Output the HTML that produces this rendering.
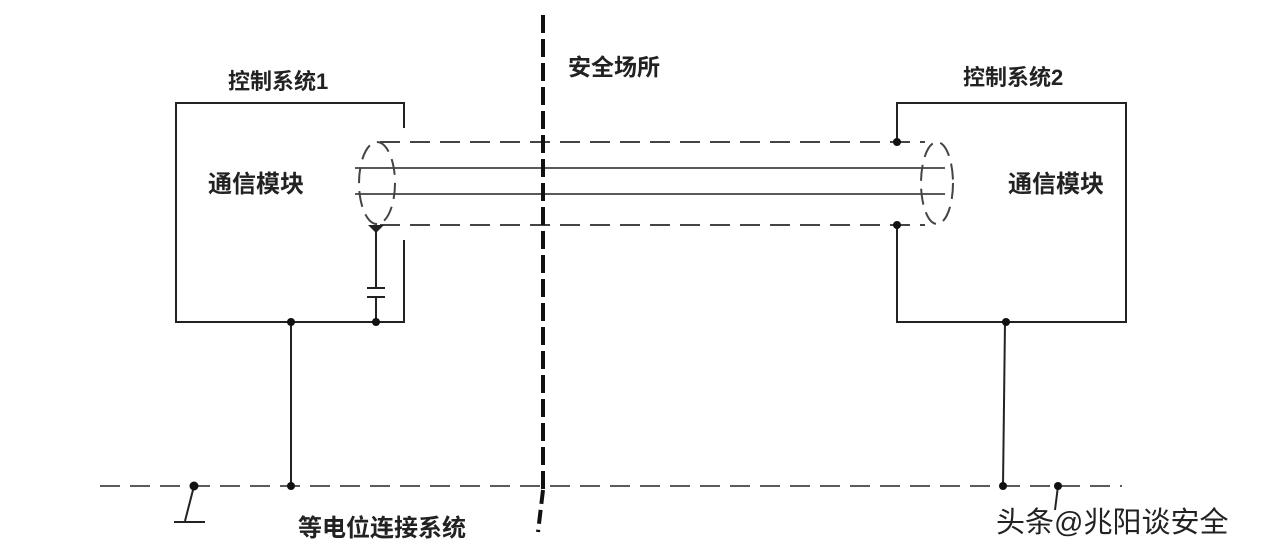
<!DOCTYPE html>
<html><head><meta charset="utf-8"><style>
body{margin:0;background:#fff}
svg text{font-family:"Liberation Sans","Noto Sans CJK SC",sans-serif;fill:#222;font-weight:bold}
</style></head><body>
<svg width="1280" height="552" viewBox="0 0 1280 552" xmlns="http://www.w3.org/2000/svg">
<rect width="1280" height="552" fill="#fff"/>
<g stroke="#222" stroke-width="2" fill="none">
<polyline points="404,128 404,103 176,103 176,322 404,322 404,240"/>
<polyline points="897,142 897,103 1126,103 1126,322 897,322 897,225"/>
<line x1="355" y1="168" x2="945" y2="168" stroke-width="1.6"/>
<line x1="355" y1="194" x2="945" y2="194" stroke-width="1.6"/>
</g>
<g stroke="#444" stroke-width="2" fill="none" stroke-dasharray="20,10">
<line x1="380" y1="142" x2="925" y2="142"/>
<line x1="380" y1="225" x2="925" y2="225"/>
<ellipse cx="377" cy="183" rx="18" ry="41" stroke-dasharray="16,8"/>
<ellipse cx="937" cy="183" rx="16" ry="41" stroke-dasharray="16,8"/>
<line x1="100" y1="486" x2="1122" y2="486" stroke-width="1.8"/>
</g>
<g stroke="#222" stroke-width="2" fill="none">
<line x1="376" y1="225" x2="376" y2="288"/>
<line x1="367" y1="288" x2="385" y2="288"/>
<line x1="367" y1="297" x2="385" y2="297"/>
<line x1="376" y1="297" x2="376" y2="322"/>
<line x1="291" y1="322" x2="291" y2="486"/>
<line x1="1005" y1="322" x2="1003" y2="486"/>
<line x1="194" y1="486" x2="185" y2="521"/>
<line x1="174" y1="522" x2="205" y2="522"/>
<line x1="1058" y1="486" x2="1055" y2="510"/>
</g>
<path d="M368,225 L384,225 L376,233 Z" fill="#222"/>
<g fill="#111">
<circle cx="376" cy="322" r="4"/><circle cx="291" cy="322" r="4"/>
<circle cx="897" cy="142" r="4"/><circle cx="897" cy="225" r="4"/>
<circle cx="1006" cy="322" r="4"/><circle cx="291" cy="486" r="4"/>
<circle cx="194" cy="486" r="4.5"/><circle cx="1003" cy="486" r="4"/>
<circle cx="1058" cy="486" r="4"/>
</g>
<line x1="543" y1="15" x2="543" y2="490" stroke="#111" stroke-width="4" stroke-dasharray="18,6"/>
<line x1="543" y1="490" x2="538" y2="532" stroke="#111" stroke-width="4" stroke-dasharray="14,6"/>
<text x="228" y="89" font-size="22">控制系统1</text>
<text x="568" y="75" font-size="23">安全场所</text>
<text x="963" y="85" font-size="22">控制系统2</text>
<text x="208" y="192" font-size="24">通信模块</text>
<text x="1008" y="192" font-size="24">通信模块</text>
<text x="298" y="536" font-size="24">等电位连接系统</text>
<text x="996" y="532" font-size="29" style="font-weight:normal">头条@兆阳谈安全</text>
</svg>
</body></html>
